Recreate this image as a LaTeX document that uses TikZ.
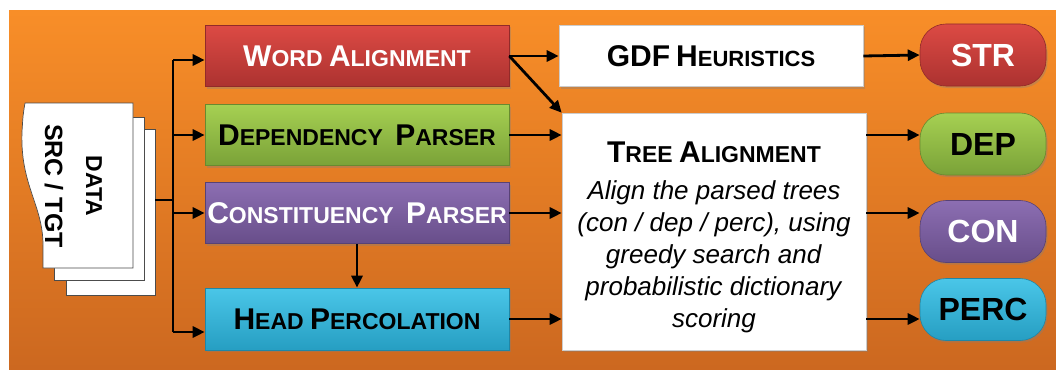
\documentclass[tikz,border=0pt]{standalone}
\usepackage{fontspec}
\setmainfont{Liberation Sans}
\usetikzlibrary{calc}
\usetikzlibrary{arrows.meta}
\usetikzlibrary{shadows}

\definecolor{bgtop}{RGB}{248,142,40}
\definecolor{bgbot}{RGB}{204,104,32}
\definecolor{redtop}{RGB}{220,74,68}
\definecolor{redbot}{RGB}{172,50,48}
\definecolor{greentop}{RGB}{166,208,82}
\definecolor{greenbot}{RGB}{122,162,56}
\definecolor{purptop}{RGB}{140,110,178}
\definecolor{purpbot}{RGB}{104,78,138}
\definecolor{cyantop}{RGB}{74,198,232}
\definecolor{cyanbot}{RGB}{38,158,194}

\newcommand{\capl}[1]{{\fontsize{30}{30}\selectfont #1}}

\begin{document}
\begin{tikzpicture}
        [
        x=1pt, y=-1pt,
        every node/.style={inner sep=0pt, font=\fontsize{23}{23}\selectfont\bfseries},
        procbox/.style={rectangle, minimum width=304pt, minimum height=61pt, top color=#1top, bottom color=#1bot, draw=#1bot!85!black, line width=0.6pt, drop shadow={shadow xshift=1.5pt, shadow yshift=-2pt, opacity=0.35}},
        whitebox/.style={rectangle, minimum width=304pt, fill=white, draw=gray!40, line width=0.6pt, drop shadow={shadow xshift=1.5pt, shadow yshift=-2pt, opacity=0.35}},
        outpill/.style={rectangle, rounded corners=26pt, minimum width=126pt, minimum height=62pt, top color=#1top, bottom color=#1bot, draw=#1bot!85!black, line width=0.6pt, font=\fontsize{32}{32}\selectfont\bfseries, drop shadow={shadow xshift=1.5pt, shadow yshift=-2pt, opacity=0.35}},
        page/.style={fill=white, draw=gray!60!black, line width=0.7pt},
        flow/.style={line width=2.8pt},
        >={Triangle[length=12pt,width=11pt]}
        ]
        \useasboundingbox (0,0) rectangle (1056,369);
        \fill[top color=bgtop, bottom color=bgbot] (9,11) rectangle (1056,369);

        \filldraw[page] (66,129) rectangle (155,295);
        \filldraw[page] (54,117) rectangle (144,280);
        \filldraw[page] (25,103) -- (133,103) -- (133,268) -- (43,268) -- (43,245)
            .. controls (43,205) and (20,185) .. (22,132) .. controls (23,115) .. (25,103);
        \node[rotate=-90, font=\fontsize{23}{23}\selectfont\bfseries] (data) at (94,186) {DATA};
        \node[rotate=-90, font=\fontsize{25}{25}\selectfont\bfseries] (srctgt) at (54,186) {SRC / TGT};

        \node[procbox=red, text=white] (wa) at (357,56) {\capl{W}ORD \capl{A}LIGNMENT};
        \node[procbox=green] (dp) at (357,135) {\capl{D}EPENDENCY\hspace{6pt} \capl{P}ARSER};
        \node[procbox=purp, text=white] (cp) at (357,213) {\capl{C}ONSTITUENCY\hspace{6pt} \capl{P}ARSER};
        \node[procbox=cyan, minimum height=62pt] (hp) at (357,319) {\capl{H}EAD \capl{P}ERCOLATION};

        \node[whitebox, minimum height=61pt, font=\fontsize{22}{22}\selectfont\bfseries] (gdf) at (711,56) {\capl{GDF} \capl{H}EURISTICS};
        \node[whitebox, minimum height=237pt, align=center, font=\fontsize{26}{32}\selectfont\mdseries] (tree) at (714,231.5)
            {\rule{0pt}{32pt}{\bfseries\fontsize{23}{23}\selectfont\capl{T}REE \capl{A}LIGNMENT}\\[5pt]
             \textit{Align the parsed trees}\\
             \textit{(con / dep / perc), using}\\
             \textit{greedy search and}\\
             \textit{probabilistic dictionary}\\
             \textit{scoring}};

        \node[outpill=red, text=white] (str) at (983,55) {STR};
        \node[outpill=green] (dep) at (983,144) {DEP};
        \node[outpill=purp, text=white] (con) at (983,231.5) {CON};
        \node[outpill=cyan] (perc) at (983,309.5) {PERC};

        \coordinate (docout) at (155,200);
        \coordinate (split) at (173,200);
        \coordinate (fantop) at (173,60);
        \coordinate (fanbot) at (173,332);

        \draw[flow] (docout) -- (split);
        \draw[flow] (fantop) -- (fanbot);
        \draw[flow,->] (fantop) -- (fantop -| wa.west);
        \draw[flow,->] (split |- dp.west) -- (dp.west);
        \draw[flow,->] (split |- cp.west) -- (cp.west);
        \draw[flow,->] (fanbot) -- (fanbot -| hp.west);

        \draw[flow,->] (wa.east) -- (gdf.west);
        \draw[flow,->] (wa.east) -- (tree.north west);
        \draw[flow,->] (dp.east) -- (dp.east -| tree.west);
        \draw[flow,->] (cp.east) -- (cp.east -| tree.west);
        \draw[flow,->] (hp.east) -- (hp.east -| tree.west);
        \draw[flow,->] (cp.south) -- (hp.north);

        \draw[flow,->] (gdf.east) -- (str.west);
        \draw[flow,->] (tree.east |- dp.east) -- (dep.west |- dp.east);
        \draw[flow,->] (tree.east |- cp.east) -- (con.west |- cp.east);
        \draw[flow,->] (tree.east |- hp.east) -- (perc.west |- hp.east);
    \end{tikzpicture}
\end{document}
